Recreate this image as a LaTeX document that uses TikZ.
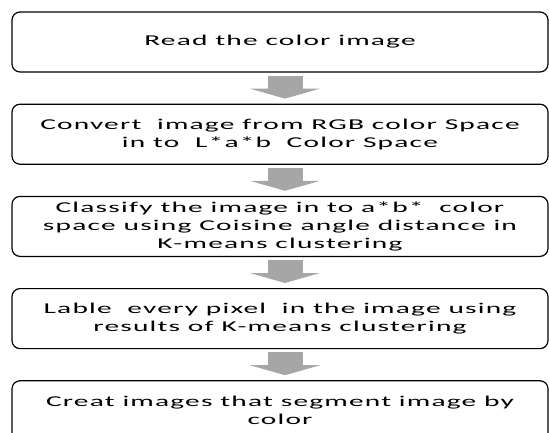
\documentclass[tikz,border=0pt]{standalone}
\usepackage{fontspec}
\setmainfont{Carlito}[FakeStretch=1.96,LetterSpace=8]
\usetikzlibrary{arrows.meta,positioning}

\begin{document}
\begin{tikzpicture}[x=1pt,y=-1pt,line width=1.2pt,
  stepbox/.style={draw=black,rounded corners=8pt,minimum width=536pt,minimum height=60pt,
    align=center,font=\fontsize{15}{18}\selectfont,inner sep=0pt},
  flow/.style={draw=black!35,line width=35pt,-{Triangle[width=70pt,length=10pt]},
    shorten <=3pt,shorten >=5pt}]
  \useasboundingbox (0,0) rectangle (549,432);
  \node[stepbox] (read) at (280,42) {Read the color image};
  \node[stepbox,below=31pt of read] (conv) {Convert\ \ image from RGB color Space\\in to\ \ L*a*b\ \ Color Space};
  \node[stepbox,below=31pt of conv] (clas) {Classify the image in to a*b*\ \ color\\space using Coisine angle distance in\\K-means clustering};
  \node[stepbox,below=31pt of clas] (lab) {Lable\ \ every pixel\ \ in the image using\\results of K-means clustering};
  \node[stepbox,below=31pt of lab] (seg) {Creat images that segment image by\\color};
  % block arrows
  \foreach \a/\b in {read/conv,conv/clas,clas/lab,lab/seg}
    \draw[flow] ([xshift=5pt]\a.south) -- ([xshift=5pt]\b.north);
\end{tikzpicture}
\end{document}
